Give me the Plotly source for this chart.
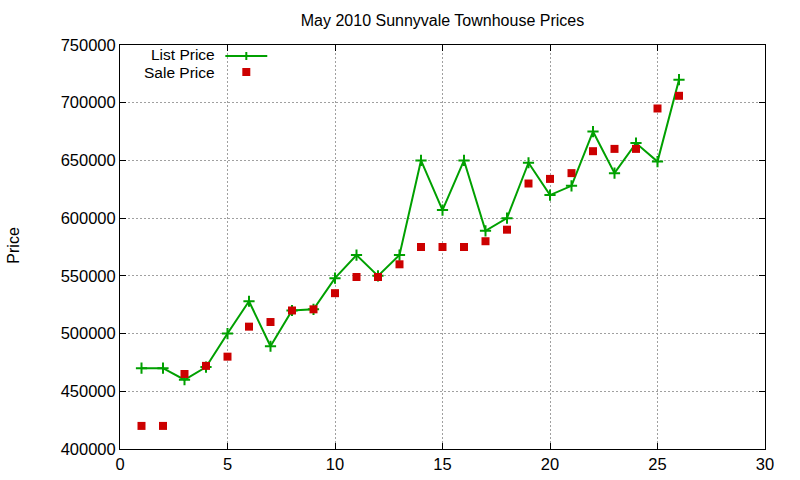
import plotly.graph_objects as go

x_vals = list(range(1, 27))
list_price = [470000, 470000, 460000, 471000, 500000, 528000, 489000, 520000, 521000, 548000,
              568000, 550000, 568000, 650000, 607000, 650000, 589000, 600000, 648000, 620000,
              628000, 675000, 639000, 665000, 649000, 720000]
sale_price = [420000, 420000, 465000, 472000, 480000, 506000, 510000, 520000, 521000, 535000,
              549000, 549000, 560000, 575000, 575000, 575000, 580000, 590000, 630000, 634000,
              639000, 658000, 660000, 660000, 695000, 706000]
x_ticks = [0, 5, 10, 15, 20, 25, 30]
y_ticks = [400000, 450000, 500000, 550000, 600000, 650000, 700000, 750000]

GREEN = "#00a000"
RED = "#cc0000"
FONT = "Liberation Sans"

fig = go.Figure()
fig.add_trace(go.Scatter(
    x=x_vals, y=list_price, mode="lines+markers", name="List Price",
    line=dict(color=GREEN, width=2),
    marker=dict(symbol="cross-thin", size=8, line=dict(color=GREEN, width=2), color=GREEN),
    showlegend=False,
))
fig.add_trace(go.Scatter(
    x=x_vals, y=sale_price, mode="markers", name="Sale Price",
    marker=dict(symbol="square", size=8, color=RED),
    showlegend=False,
))

# plot area geometry (pixels)
L, R, T, B = 119.5, 765.5, 45, 449
W, H = R - L, B - T

def px(xp):
    return (xp - L) / W

def py(yp):
    return (B - yp) / H

shapes = []
# Legend sample: List Price line with + marker
shapes.append(dict(type="line", xref="paper", yref="paper",
                   x0=px(225), x1=px(267), y0=py(56), y1=py(56),
                   line=dict(color=GREEN, width=2)))
shapes.append(dict(type="line", xref="paper", yref="paper",
                   x0=px(246), x1=px(246), y0=py(52), y1=py(60),
                   line=dict(color=GREEN, width=2)))
# Legend sample: Sale Price square
shapes.append(dict(type="rect", xref="paper", yref="paper",
                   x0=px(242), x1=px(250), y0=py(68), y1=py(76),
                   line=dict(width=0), fillcolor=RED))

annotations = [
    dict(text="List Price", xref="paper", yref="paper", x=px(216), y=py(54),
         xanchor="right", yanchor="middle", showarrow=False, borderpad=0,
         font=dict(family=FONT, size=15.5, color="black")),
    dict(text="Sale Price", xref="paper", yref="paper", x=px(216), y=py(72.5),
         xanchor="right", yanchor="middle", showarrow=False, borderpad=0,
         font=dict(family=FONT, size=15.5, color="black")),
    dict(text="Price", xref="paper", yref="paper", x=px(12), y=py(245),
         xanchor="center", yanchor="middle", textangle=-90, showarrow=False,
         font=dict(family=FONT, size=16, color="black")),
]

axis_common = dict(
    showline=True, linecolor="black", linewidth=1, mirror="allticks",
    ticks="inside", ticklen=6, tickcolor="black", tickwidth=1,
    showgrid=True, gridcolor="#a0a0a0", gridwidth=1, griddash="2px,2px",
    zeroline=False, automargin=False,
    tickfont=dict(family=FONT, size=16.5, color="black"),
)

fig.update_layout(
    width=800, height=480,
    margin=dict(l=L, r=800 - R, t=T, b=480 - B, autoexpand=False),
    paper_bgcolor="white", plot_bgcolor="white",
    title=dict(text="May 2010 Sunnyvale Townhouse Prices", x=0.5, xref="paper",
               y=1 - 20 / 480, yref="container", xanchor="center", yanchor="middle",
               font=dict(family=FONT, size=16, color="black")),
    xaxis=dict(range=[0, 30], tickvals=x_ticks, ticktext=[str(v) for v in x_ticks], **axis_common),
    yaxis=dict(range=[400000, 750000], tickvals=y_ticks, ticktext=[str(v) for v in y_ticks], **axis_common),
    shapes=shapes, annotations=annotations,
)

fig.write_html("out.html")
